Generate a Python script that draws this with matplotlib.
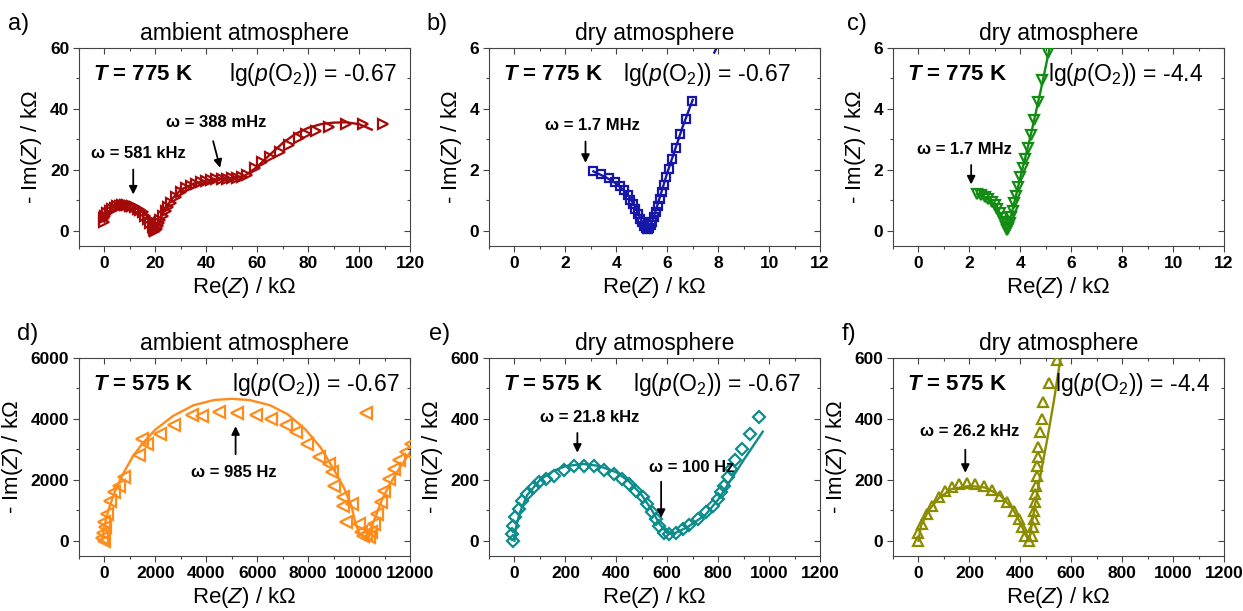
import matplotlib
matplotlib.use("Agg")
import matplotlib.pyplot as plt
from matplotlib.ticker import MultipleLocator

plt.rcParams['font.family'] = ['Liberation Sans', 'DejaVu Sans']
plt.rcParams['mathtext.fontset'] = 'custom'
plt.rcParams['mathtext.rm'] = 'Liberation Sans'
plt.rcParams['mathtext.it'] = 'Liberation Sans:italic'
plt.rcParams['mathtext.bf'] = 'Liberation Sans:bold'
plt.rcParams['mathtext.bfit'] = 'Liberation Sans:bold:italic'

# ---- data (Re(Z), -Im(Z)) ----
# a) 775 K ambient
a_re = [0, 0, 0.3, 1, 2, 3, 4, 5, 6, 7, 8, 9, 10, 11, 12, 13, 14, 15, 16, 17, 18, 19, 19.5, 20, 20.5, 21,
        21.5, 22, 23, 24, 25, 26, 28, 30, 32, 34, 36, 38, 40, 42, 44, 46, 48, 50, 52, 54, 56, 59, 62, 65,
        69, 72.6, 76.5, 79, 83, 88.3, 95, 101.4, 109.3]
a_im = [3, 4.2, 5, 5.8, 6.5, 7.1, 7.6, 8, 8.2, 8.3, 8.4, 8.3, 8.2, 8, 7.7, 7.3, 6.7, 6, 5, 3.9, 2.6, 1.3, 0.4, 0, 0.6, 1.6,
        2.6, 3.6, 5, 6.4, 7.8, 9.2, 11.2, 12.8, 13.9, 14.8, 15.5, 15.9, 16.3, 16.6, 16.9, 17.0, 17.1, 17.2, 17.3, 17.6, 18.3, 20.6, 22.5, 24.2,
        25.9, 28, 30.3, 31.9, 32.6, 34.1, 35.2, 35.2, 34.9]
a_fit_re = [0, 1, 3, 6, 9, 12, 15, 18, 19.5, 20, 21, 23, 26, 30, 35, 40, 45, 50, 55, 60, 65, 70, 75, 80, 85, 90, 95, 100, 105]
a_fit_im = [3, 5.5, 7.5, 8.8, 9, 8.5, 6.8, 3.5, 1, 0.2, 1.5, 6, 10, 13.5, 15.5, 16.5, 17, 17.2, 18, 21, 25, 28.8, 31.8, 33.8, 35, 35.5, 35.6, 35, 33.2]

# b) 775 K dry, lg p(O2) = -0.67
b_re = [3.1, 3.4, 3.7, 3.95, 4.15, 4.3, 4.45, 4.55, 4.65, 4.75, 4.85, 4.95, 5.02, 5.1, 5.15, 5.2, 5.25, 5.3,
        5.35, 5.42, 5.48, 5.55, 5.62, 5.7, 5.78, 5.88, 5.95, 6.05, 6.2, 6.33, 6.5, 6.72, 6.98]
b_im = [1.95, 1.85, 1.73, 1.6, 1.47, 1.33, 1.18, 1.02, 0.88, 0.72, 0.55, 0.4, 0.28, 0.16, 0.08, 0.05, 0.06, 0.1,
        0.18, 0.3, 0.45, 0.62, 0.8, 1.05, 1.28, 1.5, 1.75, 2.02, 2.35, 2.73, 3.17, 3.67, 4.25]
b_fit_re = [3.1, 3.6, 4.0, 4.4, 4.7, 4.95, 5.1, 5.2, 5.3, 5.45, 5.6, 5.8, 6.0, 6.3, 6.6, 7.0]
b_fit_im = [1.95, 1.75, 1.55, 1.25, 0.85, 0.4, 0.15, 0.05, 0.1, 0.4, 0.8, 1.35, 1.9, 2.65, 3.4, 4.3]
b_fit2_re = [7.85, 8.05]
b_fit2_im = [5.85, 6.2]

# c) 775 K dry, lg p(O2) = -4.4
c_re = [2.3, 2.45, 2.6, 2.75, 2.9, 3.0, 3.1, 3.2, 3.28, 3.35, 3.42, 3.47, 3.52, 3.58, 3.63, 3.7, 3.77, 3.85,
        3.92, 4.0, 4.1, 4.2, 4.3, 4.43, 4.55, 4.7, 4.85, 5.08]
c_im = [1.2, 1.18, 1.12, 1.05, 0.95, 0.85, 0.72, 0.58, 0.43, 0.28, 0.12, 0.02, 0.08, 0.25, 0.45, 0.65, 0.9, 1.15,
        1.45, 1.75, 2.05, 2.35, 2.72, 3.13, 3.63, 4.23, 4.95, 5.82]
c_fit_re = [2.3, 2.7, 3.0, 3.25, 3.47, 3.7, 4.0, 4.4, 4.8, 5.2]
c_fit_im = [1.2, 1.08, 0.85, 0.5, 0.0, 0.7, 1.75, 3.1, 4.6, 6.2]

# d) 575 K ambient
d_re = [-80, -60, -25, 0, 40, 100, 236, 366, 563, 760, 1350, 1480, 1680, 2200, 2730, 3450, 3840, 4500, 5220, 5940,
        6530, 7120, 7510, 7970, 8430, 8820, 8950, 9020, 9350, 9350, 9740, 9480, 10000, 10070, 10150, 10270, 10400,
        10460, 10590, 10720, 10850, 10990, 11180, 11380, 11580, 11840, 12030, 10270]
d_im = [100, 250, 0, 600, 440, 880, 1320, 1590, 1810, 2090, 2800, 3350, 3190, 3520, 3790, 4120, 4090, 4235, 4180, 4120,
        4010, 3790, 3570, 3190, 2750, 2530, 2250, 1810, 1430, 1150, 1210, 600, 550, 275, 150, 220, 120,
        275, 550, 880, 1260, 1650, 2030, 2360, 2640, 2910, 3190, 4200]
d_fit_re = [-100, 0, 150, 400, 700, 1100, 1500, 2000, 2700, 3500, 4300, 5000, 5700, 6500, 7200, 7900, 8500, 9000,
            9400, 9700, 9850, 10000, 10200, 10400, 10600, 10900, 11200, 11600, 12000]
d_fit_im = [0, 500, 1000, 1600, 2150, 2750, 3200, 3650, 4100, 4450, 4620, 4660, 4620, 4450, 4150, 3650, 3050, 2350,
            1750, 1150, 600, 250, 100, 250, 700, 1350, 1850, 2400, 2900]

# e) 575 K dry, lg p(O2) = -0.67
e_re = [-4, -10, -6, 3, 16, 29, 49, 75, 95, 122, 155, 194, 233, 272, 312, 351, 391, 424, 450, 476, 503, 522, 542,
        556, 569, 589, 608, 634, 661, 687, 720, 754, 780, 800, 813, 823, 837, 852, 866, 892, 924, 960]
e_im = [0, 22, 50, 77, 104, 132, 154, 176, 192, 203, 214, 233, 244, 247, 244, 233, 220, 203, 185, 165, 143, 121, 93,
        71, 49, 27, 22, 27, 38, 53, 71, 93, 115, 137, 159, 181, 209, 236, 264, 302, 352, 405]
e_fit_re = [0, 5, 20, 50, 100, 150, 200, 270, 330, 400, 450, 500, 540, 570, 600, 630, 680, 750, 800, 850, 900, 975]
e_fit_im = [0, 40, 90, 150, 200, 228, 245, 252, 246, 225, 195, 150, 100, 55, 25, 25, 45, 85, 135, 200, 265, 358]

# f) 575 K dry, lg p(O2) = -4.4
f_re = [0, 0, 14, 34, 53, 80, 106, 132, 158, 191, 224, 256, 289, 322, 348, 374, 394, 407, 420, 433, 446, 450,
        452, 455, 459, 459, 462, 465, 465, 469, 471, 478, 484, 490, 513, 544]
f_im = [0, 27, 55, 88, 115, 143, 165, 176, 185, 190, 187, 179, 167, 148, 126, 99, 71, 44, 16, 0, 16, 44,
        71, 99, 126, 154, 181, 214, 247, 275, 308, 357, 401, 456, 517, 593]
f_fit_re = [0, 10, 40, 80, 130, 200, 260, 320, 370, 400, 420, 435, 448, 470, 505, 531, 560]
f_fit_im = [0, 50, 100, 140, 170, 180, 175, 150, 105, 60, 20, 0, 70, 175, 330, 455, 610]

panels = [
    dict(tag='a)', atm='ambient atmosphere', temp='775', po2='-0.67', re=a_re, im=a_im, fre=[a_fit_re], fim=[a_fit_im],
         color='#A50A0A', marker='>', ms=7.5, xlim=(-10, 120), ylim=(-5, 60), xs=(20, 10), ys=(20, 10), lgx=0.452,
         notes=[('ω = 581 kHz', (13.4, 25.5), (11.3, 21), (11.3, 11)),
                ('ω = 388 mHz', (43.7, 35.5), (42.4, 30.3), (45.7, 19.8))]),
    dict(tag='b)', atm='dry atmosphere', temp='775', po2='-0.67', re=b_re, im=b_im, fre=[b_fit_re, b_fit2_re],
         fim=[b_fit_im, b_fit2_im], color='#1616A8', marker='s', ms=5.5, xlim=(-1, 12), ylim=(-0.5, 6), xs=(2, 1),
         ys=(2, 1), lgx=0.406, notes=[('ω = 1.7 MHz', (3.05, 3.45), (2.79, 3.02), (2.79, 2.14))]),
    dict(tag='c)', atm='dry atmosphere', temp='775', po2='-4.4', re=c_re, im=c_im, fre=[c_fit_re], fim=[c_fit_im],
         color='#128C12', marker='v', ms=7, xlim=(-1, 12), ylim=(-0.5, 6), xs=(2, 1), ys=(2, 1), lgx=0.469,
         notes=[('ω = 1.7 MHz', (1.81, 2.68), (2.07, 2.25), (2.07, 1.43))]),
    dict(tag='d)', atm='ambient atmosphere', temp='575', po2='-0.67', re=d_re, im=d_im, fre=[d_fit_re], fim=[d_fit_im],
         color='#FF8C1A', marker='<', ms=8.5, xlim=(-1000, 12000), ylim=(-500, 6000), xs=(2000, 1000), ys=(2000, 1000),
         lgx=0.463, notes=[('ω = 985 Hz', (5087, 2250), (5150, 2750), (5150, 3850))]),
    dict(tag='e)', atm='dry atmosphere', temp='575', po2='-0.67', re=e_re, im=e_im, fre=[e_fit_re], fim=[e_fit_im],
         color='#0E8C8C', marker='D', ms=6, xlim=(-100, 1200), ylim=(-50, 600), xs=(200, 100), ys=(200, 100),
         lgx=0.436, notes=[('ω = 21.8 kHz', (296, 405), (247, 363), (247, 280)),
                           ('ω = 100 Hz', (695, 240), (576, 203), (576, 66))]),
    dict(tag='f)', atm='dry atmosphere', temp='575', po2='-4.4', re=f_re, im=f_im, fre=[f_fit_re], fim=[f_fit_im],
         color='#8C8C00', marker='^', ms=7, xlim=(-100, 1200), ylim=(-50, 600), xs=(200, 100), ys=(200, 100),
         lgx=0.489, notes=[('ω = 26.2 kHz', (201, 360), (184, 308), (184, 214))]),
]

lefts = [79, 489, 893]
tag_x = [8, 426, 847, 17, 429, 842]
W, H = 1243, 611
fig = plt.figure(figsize=(W / 100, H / 100), dpi=100)

for i, p in enumerate(panels):
    row, col = divmod(i, 3)
    bottom_px = 246 if row == 0 else 556
    ax = fig.add_axes([lefts[col] / W, (H - bottom_px) / H, 331 / W, 198 / H])

    for fx, fy in zip(p['fre'], p['fim']):
        ax.plot(fx, fy, color=p['color'], lw=1.7, zorder=2)
    ax.plot(p['re'], p['im'], ls='none', marker=p['marker'], ms=p['ms'], mfc='none',
            mec=p['color'], mew=1.6, zorder=3, clip_on=True)

    ax.set_xlim(*p['xlim'])
    ax.set_ylim(*p['ylim'])
    ax.xaxis.set_major_locator(MultipleLocator(p['xs'][0]))
    ax.xaxis.set_minor_locator(MultipleLocator(p['xs'][1]))
    ax.yaxis.set_major_locator(MultipleLocator(p['ys'][0]))
    ax.yaxis.set_minor_locator(MultipleLocator(p['ys'][1]))
    ax.tick_params(which='both', direction='out', labelsize=12.5, color='#444444', width=0.8, pad=3)
    ax.tick_params(which='major', length=4)
    ax.tick_params(which='minor', length=2.5)
    for lab in ax.get_xticklabels() + ax.get_yticklabels():
        lab.set_fontweight('bold')
    for s in ax.spines.values():
        s.set_color('#444444')
        s.set_linewidth(0.8)

    # mirrored ticks pointing inward on top and right
    top = ax.secondary_xaxis('top')
    top.xaxis.set_major_locator(MultipleLocator(p['xs'][0]))
    top.xaxis.set_minor_locator(MultipleLocator(p['xs'][1]))
    top.tick_params(which='both', direction='in', labeltop=False, color='#444444', width=0.8)
    top.tick_params(which='major', length=4)
    top.tick_params(which='minor', length=2.5)
    top.spines['top'].set_visible(False)
    right = ax.secondary_yaxis('right')
    right.yaxis.set_major_locator(MultipleLocator(p['ys'][0]))
    right.yaxis.set_minor_locator(MultipleLocator(p['ys'][1]))
    right.tick_params(which='both', direction='in', labelright=False, color='#444444', width=0.8)
    right.tick_params(which='major', length=4)
    right.tick_params(which='minor', length=2.5)
    right.spines['right'].set_visible(False)

    ax.set_xlabel(r'Re($\mathit{Z}$) / kΩ', fontsize=16, labelpad=3)
    ax.set_ylabel(r'- Im($\mathit{Z}$) / kΩ', fontsize=16, labelpad=4)
    ax.set_title(p['atm'], fontsize=16.5, pad=6)

    ax.text(0.043, 0.865, r'$\mathbfit{T}$ = ' + p['temp'] + ' K', transform=ax.transAxes, fontsize=16,
            fontweight='bold', va='center', ha='left')
    ax.text(p['lgx'], 0.865, r'lg($\mathit{p}$(O$_2$)) = ' + p['po2'], transform=ax.transAxes, fontsize=16.5,
            va='center', ha='left')

    for txt, tpos, tail, tip in p['notes']:
        ax.text(tpos[0], tpos[1], txt, fontsize=12, fontweight='bold', ha='center', va='center')
        ax.annotate('', xy=tip, xytext=tail,
                    arrowprops=dict(arrowstyle='-|>', color='black', lw=1.3, mutation_scale=12))

    ty = 30 if row == 0 else 340
    fig.text(tag_x[i] / W, (H - ty) / H, p['tag'], fontsize=17, ha='left', va='baseline')

fig.savefig('out.png', dpi=100)
